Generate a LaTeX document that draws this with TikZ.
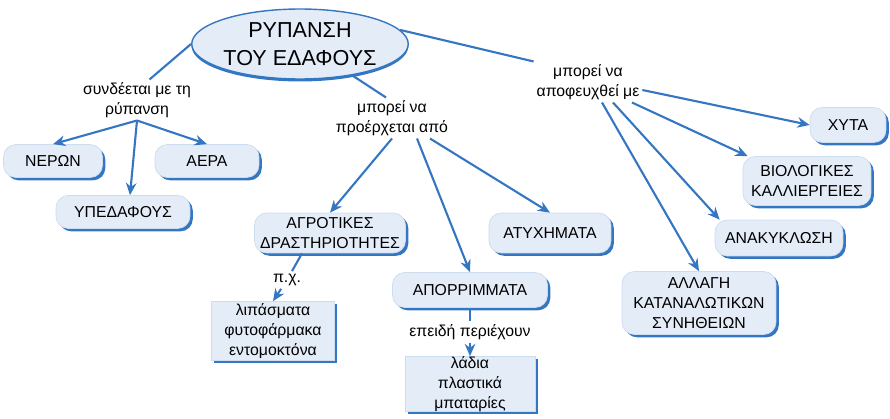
\documentclass[tikz,border=0pt]{standalone}
\usepackage{fontspec}
\setmainfont{Liberation Sans}
\usetikzlibrary{shapes.geometric,shadows,arrows.meta}

\definecolor{lineblue}{RGB}{52,118,194}
\definecolor{boxfill}{RGB}{228,236,247}

\tikzset{
    concept/.style={fill=boxfill, draw=lineblue!25, rounded corners=7pt, align=center, inner sep=0pt,
        drop shadow={shadow xshift=1.6pt, shadow yshift=-1.6pt, fill=lineblue, opacity=1}},
    leaf/.style={concept, rounded corners=0pt},
    root/.style={ellipse, fill=boxfill, draw=lineblue, line width=0.8pt, align=center, inner sep=0pt,
        minimum width=4.1cm, minimum height=1.4cm, font=\fontsize{12.3}{15.9}\selectfont,
        drop shadow={shadow xshift=0pt, shadow yshift=-1.4pt, fill=lineblue, opacity=1}},
    lbl/.style={align=center, inner sep=1.5pt},
    link/.style={draw=lineblue, line width=1.2pt},
    arr/.style={link, -{Stealth[length=7pt,width=6pt]}}
}

\begin{document}
\begin{tikzpicture}[x=0.02cm, y=-0.02cm, font=\fontsize{9}{11.3}\selectfont]
    \useasboundingbox (0,0) rectangle (890,419);

    \node[root] (rypansi) at (300,44) {ΡΥΠΑΝΣΗ\\ΤΟΥ ΕΔΑΦΟΥΣ};

    % συνδέεται με τη ρύπανση
    \node[lbl] (syndeetai) at (137,100) {συνδέεται με τη\\ρύπανση};
    \node[concept, minimum width=1.98cm, minimum height=0.66cm] (neron) at (53,161) {ΝΕΡΩΝ};
    \node[concept, minimum width=2.08cm, minimum height=0.66cm] (aera) at (207,161) {ΑΕΡΑ};
    \node[concept, minimum width=2.68cm, minimum height=0.66cm] (ypedafous) at (123,212) {ΥΠΕΔΑΦΟΥΣ};
    \draw[link] (rypansi.west) -- ([xshift=0.25cm]syndeetai.north);
    \draw[arr] (syndeetai.south) -- (neron.north);
    \draw[arr] (syndeetai.south) -- ([xshift=0.14cm]ypedafous.north);
    \draw[arr] (syndeetai.south) -- (aera.north);

    % μπορεί να προέρχεται από
    \node[lbl] (proerxetai) at (392,118) {μπορεί να\\προέρχεται από};
    \node[concept, minimum width=3.02cm, minimum height=0.8cm] (agrotikes) at (330,233) {ΑΓΡΟΤΙΚΕΣ\\ΔΡΑΣΤΗΡΙΟΤΗΤΕΣ};
    \node[concept, minimum width=2.44cm, minimum height=0.8cm] (atyximata) at (550,233) {ΑΤΥΧΗΜΑΤΑ};
    \node[concept, minimum width=3.1cm, minimum height=0.7cm] (aporrimmata) at (470,290) {ΑΠΟΡΡΙΜΜΑΤΑ};
    \draw[link] (rypansi.-31) -- ([xshift=-0.12cm]proerxetai.north);
    \draw[arr] (proerxetai.south) -- (agrotikes.north);
    \draw[arr] ([xshift=0.5cm]proerxetai.south) -- (aporrimmata.north);
    \draw[arr] ([xshift=0.76cm]proerxetai.south) -- (atyximata.north);

    \node[lbl] (pxlbl) at (287,280) {π.χ.};
    \node[leaf, minimum width=2.46cm, minimum height=1.18cm] (lipasmata) at (273,331) {λιπάσματα\\φυτοφάρμακα\\εντομοκτόνα};
    \draw[link] ([xshift=-0.56cm]agrotikes.south) -- (pxlbl);
    \draw[arr] (pxlbl) -- (lipasmata.north);

    \node[lbl] (periexoun) at (470,332) {επειδή περιέχουν};
    \node[leaf, minimum width=2.6cm, minimum height=1.08cm] (ladia) at (470,384) {λάδια\\πλαστικά\\μπαταρίες};
    \draw[link] (aporrimmata.south) -- (periexoun);
    \draw[arr] (periexoun) -- (ladia.north);

    % μπορεί να αποφευχθεί με
    \node[lbl] (apofeuxthei) at (588,82) {μπορεί να\\αποφευχθεί με};
    \node[concept, minimum width=1.52cm, minimum height=0.7cm] (xyta) at (848,125) {ΧΥΤΑ};
    \node[concept, minimum width=2.56cm, minimum height=0.98cm] (biologikes) at (807,181) {ΒΙΟΛΟΓΙΚΕΣ\\ΚΑΛΛΙΕΡΓΕΙΕΣ};
    \node[concept, minimum width=2.56cm, minimum height=0.72cm] (anakyklosi) at (779,238) {ΑΝΑΚΥΚΛΩΣΗ};
    \node[concept, minimum width=3.08cm, minimum height=1.26cm] (allagi) at (699,303) {ΑΛΛΑΓΗ\\ΚΑΤΑΝΑΛΩΤΙΚΩΝ\\ΣΥΝΗΘΕΙΩΝ};
    \draw[link] (rypansi.8) -- (apofeuxthei.north west);
    \draw[arr] ([yshift=-0.16cm]apofeuxthei.east) -- (xyta.west);
    \draw[arr] ([xshift=0.88cm]apofeuxthei.south) -- ([xshift=0.1cm]biologikes.north west);
    \draw[arr] ([xshift=0.5cm]apofeuxthei.south) -- ([xshift=0.1cm]anakyklosi.north west);
    \draw[arr] ([xshift=0.28cm]apofeuxthei.south) -- (allagi.north);
\end{tikzpicture}
\end{document}
